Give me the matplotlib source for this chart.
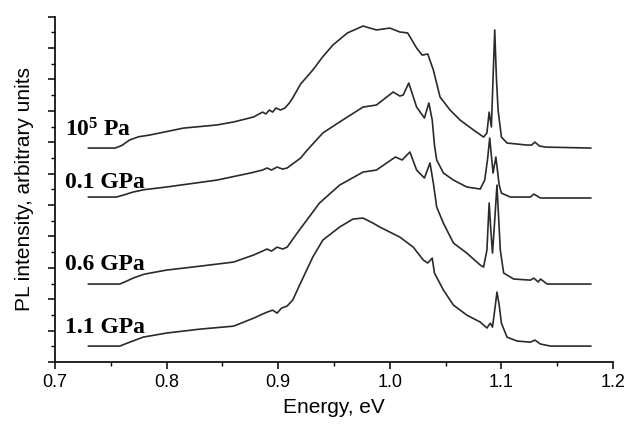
import matplotlib
matplotlib.use("Agg")
import matplotlib.pyplot as plt
from matplotlib.ticker import MultipleLocator

# --- data (energy in eV, intensity in arbitrary units) ---
labels = [r"$\mathbf{10^{5}}$ Pa", "0.1 GPa", "0.6 GPa", "1.1 GPa"]

e_1 = [0.730, 0.754, 0.760, 0.767, 0.775, 0.785, 0.815, 0.845, 0.860, 0.878,
       0.886, 0.889, 0.892, 0.895, 0.898, 0.902, 0.906, 0.910, 0.913, 0.920,
       0.931, 0.940, 0.949, 0.962, 0.976, 0.988, 1.000, 1.009, 1.016, 1.024,
       1.029, 1.034, 1.039, 1.045, 1.054, 1.063, 1.075, 1.084, 1.087, 1.089,
       1.091, 1.0925, 1.094, 1.0955, 1.097, 1.100, 1.105, 1.123, 1.127, 1.130,
       1.134, 1.140, 1.180]
i_1 = [13.63, 13.63, 13.80, 14.15, 14.35, 14.46, 14.90, 15.10, 15.29, 15.61,
       15.92, 15.80, 16.05, 15.92, 16.18, 16.05, 16.18, 16.50, 16.82, 17.70,
       18.60, 19.45, 20.19, 20.96, 21.40, 21.15, 21.27, 21.02, 20.96, 20.00,
       19.55, 19.62, 18.60, 16.88, 16.05, 15.41, 14.78, 14.33, 14.59, 15.92,
       14.97, 18.09, 21.15, 18.09, 16.05, 14.33, 13.95, 13.82, 13.82, 14.01,
       13.76, 13.69, 13.63]

e_2 = [0.730, 0.755, 0.762, 0.770, 0.780, 0.800, 0.845, 0.875, 0.886, 0.890,
       0.894, 0.899, 0.904, 0.908, 0.920, 0.926, 0.940, 0.955, 0.976, 0.988,
       1.003, 1.009, 1.012, 1.017, 1.024, 1.031, 1.035, 1.038, 1.040, 1.042,
       1.048, 1.057, 1.069, 1.081, 1.085, 1.0875, 1.0895, 1.0925, 1.095, 1.098,
       1.100, 1.108, 1.126, 1.129, 1.135, 1.180]
i_2 = [10.51, 10.51, 10.65, 10.83, 10.98, 11.15, 11.59, 12.04, 12.23, 12.36,
       12.23, 12.42, 12.29, 12.36, 12.99, 13.50, 14.59, 15.29, 16.24, 16.37,
       17.20, 16.94, 17.01, 17.77, 16.24, 15.54, 16.50, 15.41, 13.82, 12.87,
       12.04, 11.59, 11.15, 11.02, 11.59, 12.87, 14.27, 12.04, 13.06, 11.27,
       10.76, 10.51, 10.51, 10.70, 10.45, 10.45]

e_3 = [0.730, 0.758, 0.764, 0.770, 0.780, 0.800, 0.830, 0.860, 0.878, 0.886,
       0.890, 0.894, 0.899, 0.904, 0.908, 0.917, 0.937, 0.955, 0.976, 0.988,
       1.005, 1.011, 1.018, 1.024, 1.031, 1.036, 1.039, 1.042, 1.048, 1.057,
       1.069, 1.081, 1.084, 1.087, 1.089, 1.0905, 1.092, 1.094, 1.096, 1.099,
       1.102, 1.111, 1.126, 1.129, 1.133, 1.135, 1.141, 1.180]
i_3 = [4.97, 4.97, 5.15, 5.35, 5.60, 5.86, 6.11, 6.37, 6.82, 7.07,
       7.20, 7.07, 7.32, 7.20, 7.32, 8.22, 10.13, 11.27, 12.10, 12.23,
       13.06, 12.87, 13.38, 12.23, 11.72, 12.68, 11.40, 9.87, 8.85, 7.58,
       6.94, 6.18, 6.05, 7.13, 10.13, 8.41, 6.94, 9.04, 11.27, 7.13,
       5.67, 5.29, 5.22, 5.35, 5.10, 5.29, 4.97, 4.97]

e_4 = [0.730, 0.758, 0.767, 0.779, 0.800, 0.830, 0.860, 0.878, 0.886, 0.890,
       0.895, 0.899, 0.903, 0.908, 0.913, 0.920, 0.931, 0.940, 0.955, 0.967,
       0.976, 0.985, 0.991, 1.000, 1.009, 1.021, 1.030, 1.034, 1.038, 1.040,
       1.048, 1.057, 1.069, 1.081, 1.087, 1.090, 1.092, 1.094, 1.096, 1.098,
       1.100, 1.105, 1.114, 1.126, 1.130, 1.135, 1.144, 1.180]
i_4 = [1.02, 1.02, 1.27, 1.59, 1.85, 2.10, 2.29, 2.80, 3.06, 3.18,
       3.31, 3.12, 3.44, 3.57, 3.95, 5.03, 6.69, 7.77, 8.60, 9.11,
       9.17, 8.85, 8.60, 8.28, 7.96, 7.32, 6.50, 6.31, 6.62, 5.67,
       4.59, 3.63, 2.99, 2.55, 2.17, 2.48, 2.23, 3.31, 4.46, 3.63,
       2.48, 1.59, 1.34, 1.27, 1.40, 1.15, 1.02, 1.02]

label_y = [14.8, 11.45, 6.2, 2.2]

plt.rcParams["mathtext.fontset"] = "custom"
plt.rcParams["mathtext.bf"] = "Liberation Serif:bold"
plt.rcParams["mathtext.rm"] = "Liberation Serif:bold"

fig = plt.figure(figsize=(6.32, 4.26), dpi=100)
ax = fig.add_axes([0.087, 0.150, 0.883, 0.811])

for e, i in [(e_1, i_1), (e_2, i_2), (e_3, i_3), (e_4, i_4)]:
    ax.plot(e, i, color="#2a2a2a", linewidth=1.2)

for lab, y in zip(labels, label_y):
    ax.text(0.709, y, lab, fontsize=17, fontweight="bold",
            family="Liberation Serif", va="center", ha="left")

ax.set_xlim(0.7, 1.2)
ax.set_ylim(0, 22)
ax.xaxis.set_minor_locator(MultipleLocator(0.05))
ax.yaxis.set_major_locator(MultipleLocator(2))
ax.yaxis.set_minor_locator(MultipleLocator(1))
ax.set_xticks([0.7, 0.8, 0.9, 1.0, 1.1, 1.2])
ax.set_xticklabels(["0.7", "0.8", "0.9", "1.0", "1.1", "1.2"],
                   family="Liberation Sans", fontsize=13)
ax.tick_params(axis="y", which="both", labelleft=False)
ax.tick_params(which="major", direction="out", length=5, width=1.1)
ax.tick_params(which="minor", direction="out", length=3, width=1.0)

ax.spines["top"].set_visible(False)
ax.spines["right"].set_visible(False)
ax.spines["left"].set_linewidth(1.2)
ax.spines["bottom"].set_linewidth(1.2)

ax.set_xlabel("Energy, eV", family="Liberation Sans", fontsize=15, labelpad=5)
ax.set_ylabel("PL intensity, arbitrary units", family="Liberation Sans",
              fontsize=15, labelpad=10)

fig.savefig("out.png", dpi=100)
